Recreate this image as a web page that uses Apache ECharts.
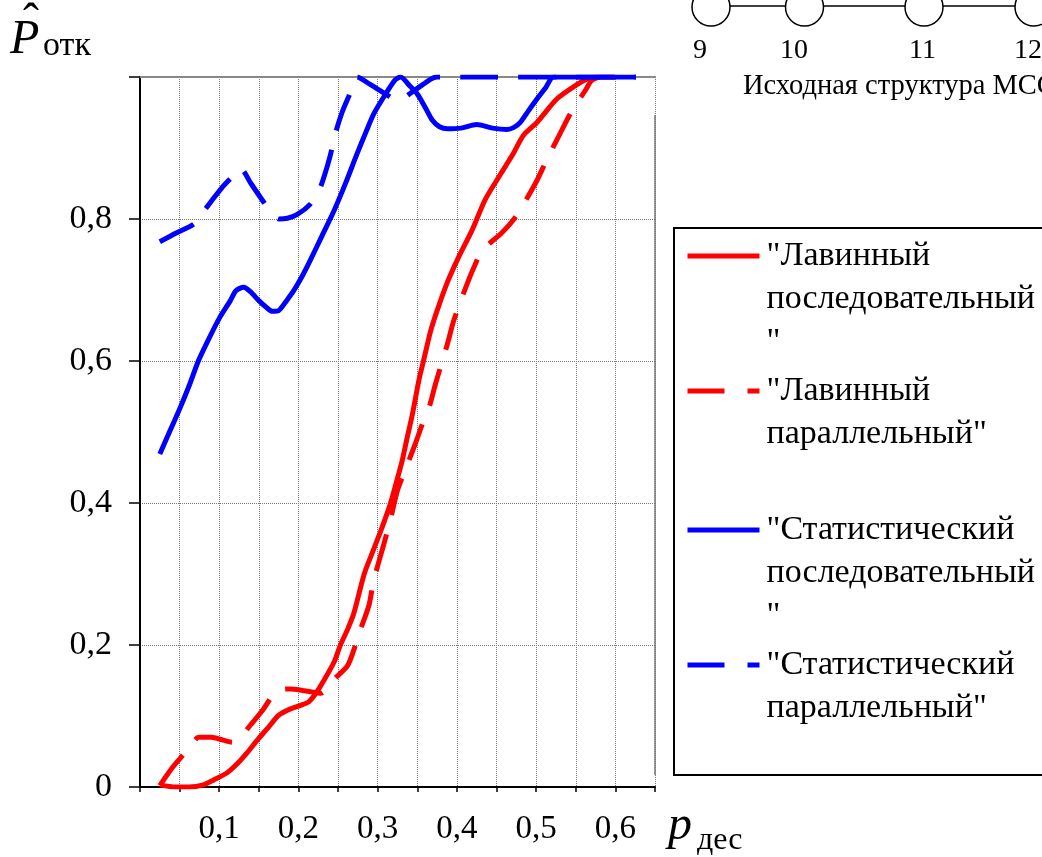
<!DOCTYPE html>
<html>
<head>
<meta charset="utf-8">
<script src="https://cdn.jsdelivr.net/npm/echarts@6/dist/echarts.min.js"></script>
<style>
  html, body { margin: 0; padding: 0; background: #fff; }
  #chart { width: 1042px; height: 857px; }
</style>
</head>
<body>
<div id="chart"></div>
<script>
// Probability of failure vs. p_дес for four routing/diagnosis schemes
const FONT = 'Liberation Serif, Times New Roman, serif';

const seriesNames = [
  '"Лавинный последовательный"',
  '"Лавинный параллельный"',
  '"Статистический последовательный"',
  '"Статистический параллельный"'
];
const legendLabels = [
  '"Лавинный\nпоследовательный\n"',
  '"Лавинный\nпараллельный"',
  '"Статистический\nпоследовательный\n"',
  '"Статистический\nпараллельный"'
];

// [p_дес, P_отк]
const lavSeq = [
  [0.025,0.003],[0.045,0.0],[0.062,0.0],[0.08,0.003],[0.093,0.01],[0.11,0.02],
  [0.123,0.033],[0.135,0.048],[0.148,0.066],[0.162,0.084],[0.175,0.101],[0.19,0.11],
  [0.205,0.116],[0.213,0.12],[0.222,0.132],[0.232,0.15],[0.245,0.176],[0.253,0.2],
  [0.262,0.222],[0.27,0.245],[0.283,0.3],[0.295,0.335],[0.304,0.361],[0.316,0.399],
  [0.325,0.435],[0.331,0.46],[0.337,0.491],[0.344,0.526],[0.352,0.573],[0.358,0.601],
  [0.367,0.643],[0.375,0.671],[0.388,0.711],[0.402,0.746],[0.419,0.784],[0.436,0.828],
  [0.455,0.863],[0.47,0.89],[0.484,0.918],[0.501,0.936],[0.526,0.969],[0.547,0.986],
  [0.564,0.997],[0.58,1.0],[0.6,1.0]
];
const lavPar = [
  [0.025,0.002],[0.04,0.026],[0.055,0.046],[0.065,0.06],[0.074,0.07],[0.09,0.07],
  [0.105,0.066],[0.117,0.063],[0.125,0.068],[0.14,0.088],[0.156,0.11],[0.173,0.136],
  [0.19,0.138],[0.205,0.136],[0.217,0.134],[0.228,0.132],[0.245,0.152],[0.262,0.171],
  [0.272,0.2],[0.278,0.221],[0.289,0.256],[0.295,0.291],[0.308,0.343],[0.316,0.376],
  [0.325,0.418],[0.337,0.453],[0.348,0.485],[0.356,0.51],[0.365,0.535],[0.373,0.568],
  [0.388,0.624],[0.396,0.657],[0.413,0.709],[0.423,0.736],[0.432,0.756],[0.457,0.781],
  [0.474,0.803],[0.499,0.85],[0.512,0.88],[0.53,0.92],[0.545,0.952],[0.562,0.981],
  [0.57,0.995],[0.58,1.0]
];
const statSeq = [
  [0.025,0.469],[0.038,0.502],[0.051,0.535],[0.063,0.568],[0.074,0.601],[0.085,0.627],
  [0.1,0.66],[0.114,0.685],[0.121,0.699],[0.131,0.704],[0.14,0.697],[0.15,0.685],
  [0.159,0.676],[0.167,0.67],[0.175,0.671],[0.185,0.685],[0.194,0.699],[0.205,0.72],
  [0.215,0.742],[0.23,0.777],[0.245,0.812],[0.26,0.852],[0.274,0.892],[0.285,0.922],
  [0.295,0.948],[0.31,0.976],[0.322,0.996],[0.329,1.0],[0.34,0.988],[0.35,0.976],
  [0.36,0.957],[0.369,0.939],[0.378,0.93],[0.388,0.927],[0.405,0.928],[0.425,0.933],
  [0.445,0.928],[0.463,0.926],[0.472,0.929],[0.48,0.936],[0.49,0.952],[0.501,0.969],
  [0.512,0.985],[0.522,1.0],[0.626,1.0]
];
const statPar = [
  [0.025,0.768],[0.045,0.78],[0.068,0.793],[0.077,0.806],[0.09,0.825],[0.104,0.845],
  [0.115,0.858],[0.127,0.871],[0.14,0.85],[0.156,0.824],[0.165,0.81],[0.175,0.8],
  [0.186,0.801],[0.198,0.806],[0.215,0.821],[0.226,0.84],[0.233,0.862],[0.24,0.889],
  [0.247,0.922],[0.255,0.95],[0.264,0.974],[0.274,1.0],[0.29,0.99],[0.31,0.976],
  [0.325,0.967],[0.345,0.98],[0.367,0.997],[0.375,1.0],[0.626,1.0]
];

const xTicks = [0.1, 0.2, 0.3, 0.4, 0.5, 0.6];
const yTicks = [0, 0.2, 0.4, 0.6, 0.8];

const RED = '#ff0000', BLUE = '#0000ff';
const DASH = [38, 20];
const LW = 5;

function fmt(v) { return String(+v.toFixed(2)).replace('.', ','); }
function onList(v, list) { return list.some(t => Math.abs(t - v) < 1e-6); }

function lineSeries(name, data, color, dashed) {
  return {
    name, type: 'line', data, smooth: 0.25, symbol: 'none',
    lineStyle: { color, width: LW, type: dashed ? DASH : 'solid', cap: 'butt', join: 'round' },
    itemStyle: { color }
  };
}

// one legend block per series; blank leading rows keep the line sample level with the first text row
const iconY = [256, 391, 530, 665];
function legendBlock(i, lines, dashed) {
  const pad = '\n'.repeat(lines - 1);
  const half = (2 * lines - 1) * 43 / 2;
  return {
    show: true, data: [seriesNames[i]], orient: 'vertical',
    left: 685, top: iconY[i] - half, padding: 0,
    itemWidth: 72, itemHeight: 14, selectedMode: false,
    formatter: () => pad + legendLabels[i],
    itemStyle: { color: 'rgba(0,0,0,0)', borderWidth: 0, borderColor: 'rgba(0,0,0,0)', opacity: 0 },
    lineStyle: { width: 5, type: dashed ? [37, 23] : 'solid' },
    textStyle: { fontFamily: FONT, fontSize: 34, lineHeight: 43, color: '#000', padding: [0, 0, 0, 2] }
  };
}

const chart = echarts.init(document.getElementById('chart'), null, { renderer: 'canvas' });
chart.setOption({
  animation: false,
  backgroundColor: '#fff',
  grid: { left: 140, right: 387, top: 77, bottom: 70 },
  xAxis: [{
    type: 'value', min: 0, max: 0.65, interval: 0.05,
    axisLine: { show: true, lineStyle: { color: '#000', width: 2 } },
    axisTick: { show: true, length: 5, lineStyle: { color: '#000', width: 1.5 } },
    axisLabel: {
      margin: 26, fontFamily: FONT, fontSize: 33, color: '#000',
      formatter: v => onList(v, xTicks) ? fmt(v) : ''
    },
    splitLine: { show: true, lineStyle: { color: '#777', width: 1, type: 'dotted' } }
  }, {
    type: 'value', position: 'top', min: 0, max: 0.65, interval: 0.05,
    axisLine: { show: true, lineStyle: { color: '#888', width: 2 } },
    axisTick: { show: false }, axisLabel: { show: false }, splitLine: { show: false }
  }],
  yAxis: {
    type: 'value', min: 0, max: 1, interval: 0.2,
    axisLine: { show: true, lineStyle: { color: '#000', width: 2 } },
    axisTick: { show: true, length: 11, lineStyle: { color: '#000', width: 1.5 } },
    axisLabel: {
      margin: 28, fontFamily: FONT, fontSize: 34, color: '#000',
      formatter: v => onList(v, yTicks) ? fmt(v) : ''
    },
    splitLine: { show: true, lineStyle: { color: '#777', width: 1, type: 'dotted' } }
  },
  legend: [
    legendBlock(0, 3, false),
    legendBlock(1, 2, true),
    legendBlock(2, 3, false),
    legendBlock(3, 2, true)
  ],
  series: [
    lineSeries(seriesNames[0], lavSeq, RED, false),
    lineSeries(seriesNames[1], lavPar, RED, true),
    lineSeries(seriesNames[2], statSeq, BLUE, false),
    lineSeries(seriesNames[3], statPar, BLUE, true)
  ],
  graphic: [
    // legend frame
    { type: 'rect', shape: { x: 674, y: 228, width: 420, height: 547 },
      style: { fill: 'none', stroke: '#000', lineWidth: 2 }, z: 0 },
    // right border of the plot frame
    { type: 'line', shape: { x1: 655, y1: 115, x2: 655, y2: 775 },
      style: { stroke: '#999', lineWidth: 2 } },
    // axis titles
    { type: 'text', style: { text: 'P', x: 10, y: 40, fontFamily: FONT, fontStyle: 'italic', fontSize: 48, fill: '#000', verticalAlign: 'middle' } },
    { type: 'text', style: { text: 'ˆ', x: 31, y: 24, fontFamily: FONT, fontSize: 48, fill: '#000', align: 'center', verticalAlign: 'middle' } },
    { type: 'text', style: { text: 'отк', x: 43, y: 46.5, fontFamily: FONT, fontSize: 34, fill: '#000', verticalAlign: 'middle' } },
    { type: 'text', style: { text: 'p', x: 668, y: 826, fontFamily: FONT, fontStyle: 'italic', fontSize: 48, fill: '#000', verticalAlign: 'middle' } },
    { type: 'text', style: { text: 'дес', x: 697, y: 841, fontFamily: FONT, fontSize: 32, fill: '#000', verticalAlign: 'middle' } },
    // initial network structure (nodes 9–12)
    { type: 'line', shape: { x1: 730, y1: 6, x2: 785.5, y2: 6 }, style: { stroke: '#000', lineWidth: 1.5 } },
    { type: 'line', shape: { x1: 823.5, y1: 6, x2: 905, y2: 6 }, style: { stroke: '#000', lineWidth: 1.5 } },
    { type: 'line', shape: { x1: 943, y1: 6, x2: 1015, y2: 6 }, style: { stroke: '#000', lineWidth: 1.5 } },
    { type: 'circle', shape: { cx: 711, cy: 7, r: 19 }, style: { fill: '#fff', stroke: '#000', lineWidth: 1.5 } },
    { type: 'circle', shape: { cx: 804.5, cy: 7, r: 19 }, style: { fill: '#fff', stroke: '#000', lineWidth: 1.5 } },
    { type: 'circle', shape: { cx: 924, cy: 7, r: 19 }, style: { fill: '#fff', stroke: '#000', lineWidth: 1.5 } },
    { type: 'circle', shape: { cx: 1034, cy: 7, r: 19 }, style: { fill: '#fff', stroke: '#000', lineWidth: 1.5 } },
    { type: 'text', style: { text: '9', x: 700, y: 51, fontFamily: FONT, fontSize: 28, fill: '#000', align: 'center', verticalAlign: 'middle' } },
    { type: 'text', style: { text: '10', x: 794, y: 51, fontFamily: FONT, fontSize: 28, fill: '#000', align: 'center', verticalAlign: 'middle' } },
    { type: 'text', style: { text: '11', x: 922.5, y: 51, fontFamily: FONT, fontSize: 28, fill: '#000', align: 'center', verticalAlign: 'middle' } },
    { type: 'text', style: { text: '12', x: 1014, y: 51, fontFamily: FONT, fontSize: 28, fill: '#000', verticalAlign: 'middle' } },
    { type: 'text', style: { text: 'Исходная структура МСС', x: 743, y: 87, fontFamily: FONT, fontSize: 28.5, fill: '#000', verticalAlign: 'middle' } }
  ]
});
</script>
</body>
</html>
